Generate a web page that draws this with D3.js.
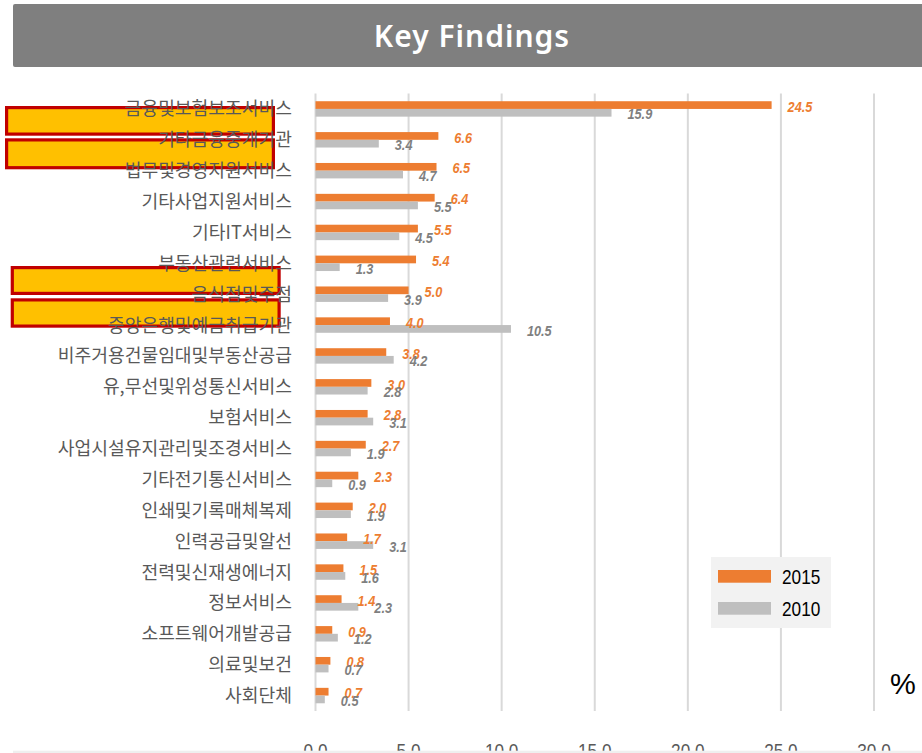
<!DOCTYPE html>
<html><head><meta charset="UTF-8">
<style>
body { margin: 0; background: #fff; }
svg { display: block; }
.narrow { font-family: "Liberation Sans", Arial, sans-serif; }
</style>
</head>
<body>
<svg width="922" height="753"></svg>
<script src="https://cdnjs.cloudflare.com/ajax/libs/d3/7.8.5/d3.min.js"></script>
<script>

var categories = [
  "금융및보험보조서비스", "기타금융중개기관", "법무및경영지원서비스", "기타사업지원서비스",
  "기타IT서비스", "부동산관련서비스", "음식점및주점", "중앙은행및예금취급기관",
  "비주거용건물임대및부동산공급", "유,무선및위성통신서비스", "보험서비스",
  "사업시설유지관리및조경서비스", "기타전기통신서비스", "인쇄및기록매체복제",
  "인력공급및알선", "전력및신재생에너지", "정보서비스", "소프트웨어개발공급",
  "의료및보건", "사회단체"
];
var values2015 = [24.5, 6.6, 6.5, 6.4, 5.5, 5.4, 5.0, 4.0, 3.8, 3.0, 2.8, 2.7, 2.3, 2.0, 1.7, 1.5, 1.4, 0.9, 0.8, 0.7];
var values2010 = [15.9, 3.4, 4.7, 5.5, 4.5, 1.3, 3.9, 10.5, 4.2, 2.8, 3.1, 1.9, 0.9, 1.9, 3.1, 1.6, 2.3, 1.2, 0.7, 0.5];
var seriesNames = ["2015", "2010"];
var xTicks = [0, 5, 10, 15, 20, 25, 30];

var colors = {"2015": "#ED7D31", "2010": "#BFBFBF"};
var labelColors = {"2015": "#ED7D31", "2010": "#7F7F7F"};
var squeeze = " scale(0.82,1)";  // Arial Narrow look

var svg = d3.select("svg");

// title banner
svg.append("rect")
    .attr("x", 13).attr("y", 4).attr("width", 930).attr("height", 63)
    .attr("rx", 2).attr("fill", "#7F7F7F");
svg.append("text")
    .attr("x", 472).attr("y", 46.5)
    .attr("text-anchor", "middle")
    .attr("fill", "#fff")
    .style("font", "600 30px 'Noto Sans', 'Open Sans', sans-serif")
    .style("letter-spacing", "1px")
    .text("Key Findings");

var x = d3.scaleLinear().domain([0, 30]).range([315.5, 874]);
var y = d3.scaleBand().domain(categories).range([93.5, 711]).paddingInner(0.5).paddingOuter(0.25);
var ySub = d3.scaleBand().domain(seriesNames).range([0, y.bandwidth()]);

// gridlines
svg.append("g").selectAll("line")
    .data(xTicks)
  .enter().append("line")
    .attr("x1", function(d) { return x(d); })
    .attr("x2", function(d) { return x(d); })
    .attr("y1", 93.5).attr("y2", 711)
    .attr("stroke", "#D9D9D9").attr("stroke-width", 2);

// highlight boxes (behind category labels)
var boxes = [
  {x0: 5, y0: 106, x1: 275, y1: 135.7},
  {x0: 5, y0: 138.3, x1: 275, y1: 169.3},
  {x0: 10.7, y0: 266, x1: 280.7, y1: 295},
  {x0: 10.7, y0: 298.3, x1: 280.7, y1: 327.7}
];
svg.append("g").selectAll("rect")
    .data(boxes)
  .enter().append("rect")
    .attr("x", function(d) { return d.x0 + 1.6; })
    .attr("y", function(d) { return d.y0 + 1.6; })
    .attr("width", function(d) { return d.x1 - d.x0 - 3.2; })
    .attr("height", function(d) { return d.y1 - d.y0 - 3.2; })
    .attr("fill", "#FFC000")
    .attr("stroke", "#C00000")
    .attr("stroke-width", 3.2);

// category labels
svg.append("g").selectAll("text")
    .data(categories)
  .enter().append("text")
    .attr("x", 292)
    .attr("y", function(d) { return y(d) + y.bandwidth() / 2; })
    .attr("dy", "0.36em")
    .attr("text-anchor", "end")
    .attr("fill", "#595959")
    .style("font", "18.2px 'Noto Sans CJK KR', sans-serif")
    .text(function(d) { return d; });

var rows = categories.map(function(c, i) {
  return {cat: c, vals: [{s: "2015", v: values2015[i]}, {s: "2010", v: values2010[i]}]};
});

var row = svg.append("g").selectAll("g")
    .data(rows)
  .enter().append("g")
    .attr("transform", function(d) { return "translate(0," + y(d.cat) + ")"; });

row.selectAll("rect")
    .data(function(d) { return d.vals; })
  .enter().append("rect")
    .attr("x", x(0))
    .attr("y", function(d) { return ySub(d.s); })
    .attr("width", function(d) { return x(d.v) - x(0); })
    .attr("height", ySub.bandwidth())
    .attr("fill", function(d) { return colors[d.s]; });

row.selectAll("text")
    .data(function(d) { return d.vals; })
  .enter().append("text")
    .attr("class", "narrow")
    .attr("transform", function(d) {
      return "translate(" + (x(d.v) + 16) + "," + (ySub(d.s) + ySub.bandwidth() / 2 + 1) + ")" + squeeze;
    })
    .attr("dy", "0.36em")
    .attr("fill", function(d) { return labelColors[d.s]; })
    .style("font-size", "15.5px")
    .style("font-weight", "bold")
    .style("font-style", "italic")
    .text(function(d) { return d.v.toFixed(1); });

// x tick labels (bottom, mostly cut off)
svg.append("g").selectAll("text")
    .data(xTicks)
  .enter().append("text")
    .attr("class", "narrow")
    .attr("transform", function(d) { return "translate(" + x(d) + ",758)" + squeeze; })
    .attr("text-anchor", "middle")
    .attr("fill", "#595959")
    .style("font-size", "21px")
    .text(function(d) { return d.toFixed(1); });

svg.append("rect")
    .attr("x", 13).attr("y", 750.7).attr("width", 909).attr("height", 3)
    .attr("fill", "#EFEFEF");

// legend
var legend = svg.append("g").attr("transform", "translate(711,557)");
legend.append("rect").attr("width", 120).attr("height", 71).attr("fill", "#F2F2F2");
var li = legend.selectAll("g")
    .data(seriesNames)
  .enter().append("g")
    .attr("transform", function(d, i) { return "translate(0," + (13 + i * 32) + ")"; });
li.append("rect")
    .attr("x", 7).attr("width", 53).attr("height", 12.7)
    .attr("fill", function(d) { return colors[d]; });
li.append("text")
    .attr("class", "narrow")
    .attr("transform", "translate(71,6.4)" + squeeze)
    .attr("dy", "0.36em")
    .attr("fill", "#000")
    .style("font-size", "21px")
    .text(function(d) { return d; });

svg.append("text")
    .attr("x", 903).attr("y", 694)
    .attr("text-anchor", "middle")
    .attr("fill", "#000")
    .style("font", "29px 'Liberation Sans', sans-serif")
    .text("%");

</script>
</body></html>
